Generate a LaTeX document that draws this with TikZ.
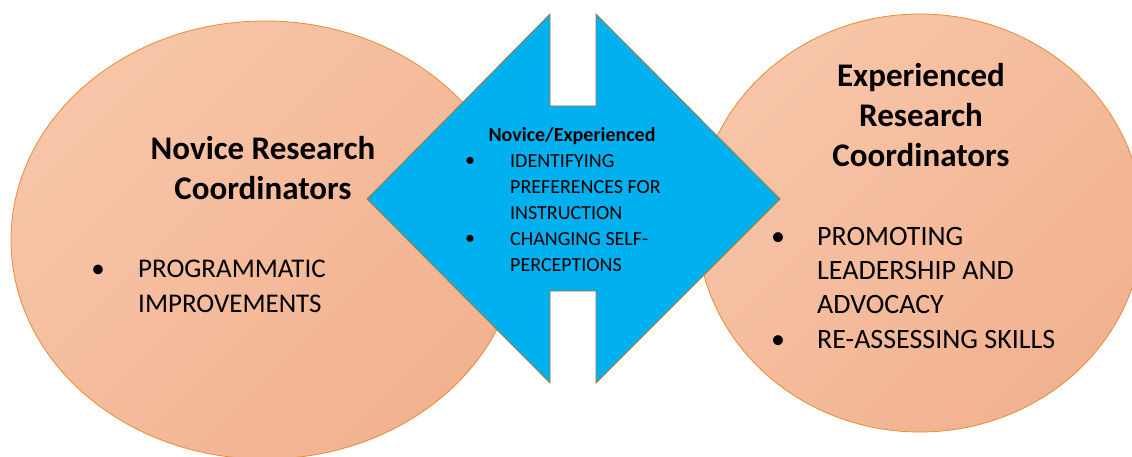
\documentclass[tikz,border=0pt]{standalone}
\usepackage{fontspec}
\setmainfont{Carlito}
\usetikzlibrary{shapes.geometric}

\definecolor{salmonlight}{HTML}{F8C5A8}
\definecolor{salmondark}{HTML}{F1B290}
\definecolor{rimorange}{HTML}{E58C35}
\definecolor{arrowcyan}{HTML}{00B0EF}
\definecolor{arrowrim}{HTML}{B8742A}

\begin{document}
\begin{tikzpicture}[x=1pt, y=-1pt]
  \tikzstyle{group} = [ellipse, draw=rimorange, line width=0.8pt, top color=salmonlight, bottom color=salmondark, shading angle=45, inner sep=0pt]
  \tikzstyle{title} = [font=\bfseries\fontsize{33}{40}\selectfont, align=center, anchor=base, inner sep=0pt]
  \tikzstyle{point} = [font=\fontsize{27}{34.5}\selectfont, align=left, anchor=base west, inner sep=0pt]
  \tikzstyle{dot} = [anchor=base, inner sep=0pt]
  \useasboundingbox (0,0) rectangle (1132,457);

  % the two groups
  \node [group, minimum width=508, minimum height=438] (novice) at (265,240) {};
  \node [group, minimum width=446, minimum height=418] (experienced) at (920,223) {};

  % double arrow between them
  \draw [fill=arrowcyan, draw=arrowrim, line width=0.8pt]
    (550,14) -- (367,199) -- (550,383) -- (550,291) -- (596,291) -- (596,383)
    -- (780,199) -- (596,14) -- (596,106) -- (550,106) -- cycle;

  % left side (multi-line nodes sit on the baseline of their last line)
  \node [title] (noviceTitle) at (263,200) {Novice Research\\Coordinators};
  \node [dot, font=\fontsize{27}{34.5}\selectfont] (noviceDot) at (98,277) {•};
  \node [point, font=\fontsize{27}{35}\selectfont] (noviceList) at (138,312) {PROGRAMMATIC\\IMPROVEMENTS};

  % middle
  \node [title, font=\bfseries\fontsize{20}{26}\selectfont] (bothTitle) at (572,142) {Novice/Experienced};
  \node [dot, font=\fontsize{20}{26}\selectfont] (bothDotA) at (470,167) {•};
  \node [dot, font=\fontsize{20}{26}\selectfont] (bothDotB) at (470,244) {•};
  \node [point, font=\fontsize{20}{26}\selectfont] (bothList) at (510,271)
    {IDENTIFYING\\PREFERENCES FOR\\INSTRUCTION\\CHANGING SELF-\\PERCEPTIONS};

  % right side
  \node [title] (experiencedTitle) at (921,167) {Experienced\\Research\\Coordinators};
  \node [dot, font=\fontsize{28}{34.5}\selectfont] (experiencedDotA) at (778,245) {•};
  \node [dot, font=\fontsize{28}{34.5}\selectfont] (experiencedDotB) at (778,348) {•};
  \node [point, font=\fontsize{28}{34.3}\selectfont] (experiencedList) at (817,348)
    {PROMOTING\\LEADERSHIP AND\\ADVOCACY\\RE-ASSESSING SKILLS};
\end{tikzpicture}
\end{document}
